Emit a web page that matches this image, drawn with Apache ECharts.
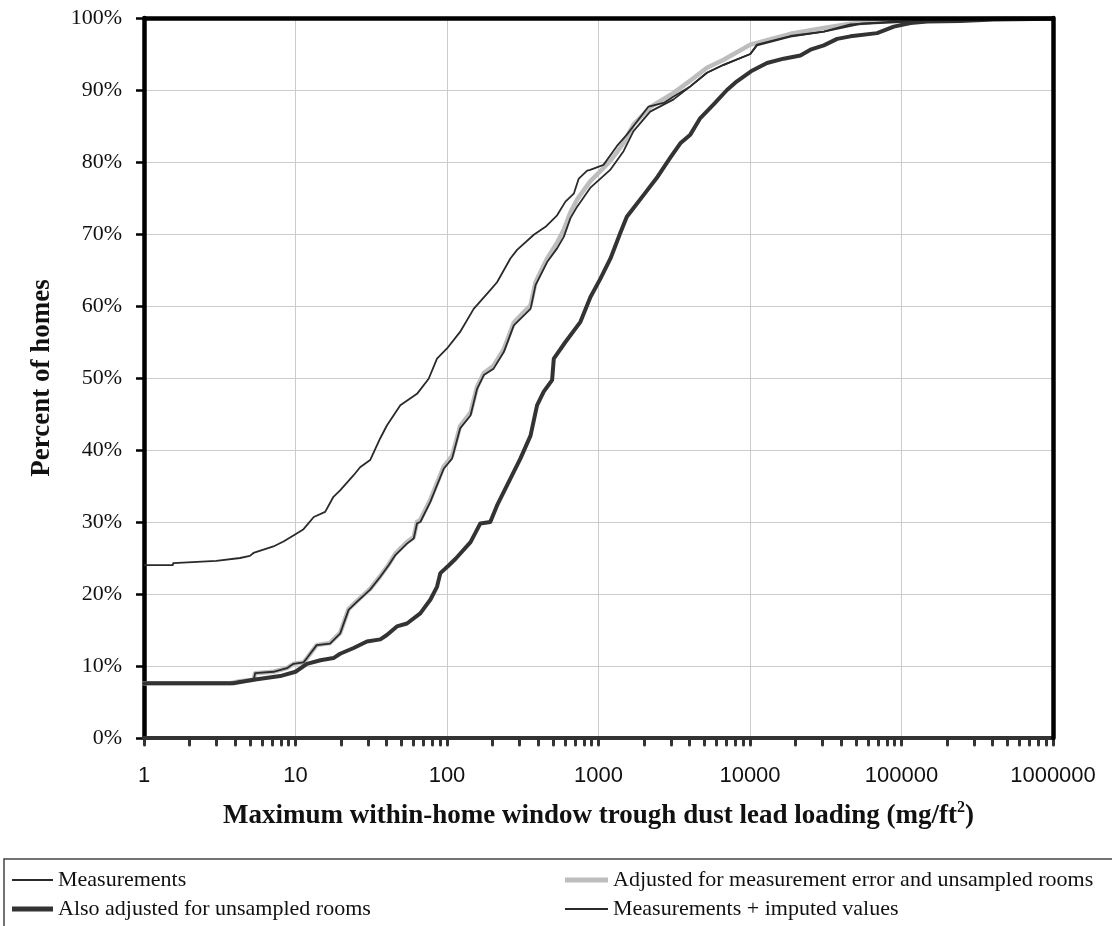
<!DOCTYPE html>
<html>
<head>
<meta charset="utf-8">
<script src="https://cdn.jsdelivr.net/npm/echarts@6/dist/echarts.min.js"></script>
<style>
html,body{margin:0;padding:0;background:#fff;}
#chart{width:1112px;height:926px;}
</style>
</head>
<body>
<div id="chart"></div>
<script>
// ---- Data (x = dust lead loading, y = percent of homes) ----
const seriesNames = [
  'Measurements',
  'Adjusted for measurement error and unsampled rooms',
  'Also adjusted for unsampled rooms',
  'Measurements + imputed values'
];

const measurements = [
  [1,24.0],[1.55,24.0],[1.56,24.3],[3.0,24.6],[4.31,25.0],[5.0,25.3],[5.28,25.7],[7.15,26.6],
  [8.33,27.3],[10,28.3],[11.3,29.0],[13.2,30.7],[15.7,31.4],[17.8,33.5],[19.7,34.4],[24.2,36.5],
  [26.7,37.6],[31.1,38.6],[36.2,41.6],[40.1,43.4],[49.2,46.2],[63.4,47.8],[75.7,49.9],[85.9,52.7],
  [100,54.1],[122,56.4],[150,59.6],[193,62.2],[214,63.3],[262,66.6],[290,67.8],[374,69.9],
  [447,71.0],[533,72.6],[605,74.5],[687,75.6],[741,77.7],[842,78.8],[881,78.9],[1079,79.6],
  [1321,82.2],[1538,83.8],[1791,85.6],[2138,87.7],[2690,88.2],[3133,89.1],[4036,90.5],[5200,92.4],
  [6700,93.5],[10050,95.0],[11120,96.2],[18500,97.4],[30700,98.1],[53600,99.2],[89000,99.4],
  [148000,99.6],[407000,99.95],[1000000,99.95]
];

const adjustedBoth = [
  [1,7.6],[3.7,7.6],[4.31,7.9],[5.3,8.1],[5.41,9.0],[7.15,9.2],[8.77,9.7],[9.7,10.3],[11.3,10.5],
  [11.9,11.1],[13.8,12.9],[16.9,13.2],[19.7,14.6],[22.4,17.9],[25.4,19.0],[31.1,20.7],[36.3,22.5],
  [41.2,24.1],[45.6,25.6],[54.4,27.2],[60.3,27.9],[63.4,30.0],[66.7,30.3],[77.6,33.1],[95.1,37.7],
  [108,39.2],[122,43.3],[143,45.2],[158,48.8],[175,50.7],[203,51.7],[237,54.0],[276,57.7],
  [356,60.1],[384,63.3],[458,66.6],[533,68.8],[590,70.6],[653,73.0],[723,74.8],[881,77.3],
  [1194,80.1],[1463,82.6],[1702,85.2],[2193,87.6],[3133,89.6],[4036,91.3],[5200,93.1],[6700,94.2],
  [10050,96.3],[18500,97.8],[30700,98.6],[46000,99.2],[89000,99.6],[245000,99.8],[500000,99.95],
  [1000000,99.95]
];

const alsoAdjusted = [
  [1,7.6],[3.89,7.6],[5.28,8.1],[7.92,8.6],[10,9.2],[11.9,10.3],[14.6,10.8],[17.8,11.1],[19.7,11.7],
  [24.2,12.5],[29.6,13.4],[36.3,13.7],[40.1,14.3],[46.7,15.5],[54.4,15.9],[66.6,17.3],[77.6,19.2],
  [85.9,21.0],[90.4,22.9],[103,24.0],[114,24.9],[143,27.2],[166,29.8],[193,30.0],[214,32.3],
  [249,35.1],[305,38.8],[356,42.0],[393,46.2],[435,48.1],[494,49.7],[507,52.7],[605,55.0],
  [760,57.8],[885,61.25],[1030,63.8],[1200,66.6],[1390,70.1],[1538,72.4],[1660,73.3],[1982,75.4],
  [2427,77.8],[2977,80.6],[3467,82.6],[4036,83.8],[4699,86.1],[5754,88.0],[7047,90.0],[8200,91.2],
  [10160,92.6],[12950,93.75],[16670,94.35],[21500,94.8],[25060,95.6],[30700,96.2],[37600,97.1],
  [46000,97.45],[69000,97.9],[89000,98.8],[114600,99.3],[148000,99.5],[245000,99.6],[407000,99.8],
  [1000000,99.9]
];

const measPlusImputed = [
  [1,7.6],[3.7,7.6],[4.31,7.9],[5.3,8.0],[5.41,9.0],[7.15,9.2],[8.77,9.7],[9.7,10.3],[11.3,10.5],
  [11.9,11.1],[13.8,12.9],[16.9,13.1],[19.7,14.5],[22.4,17.8],[25.4,18.9],[31.1,20.6],[36.3,22.4],
  [41.2,24.0],[45.6,25.4],[54.4,27.0],[60.3,27.7],[63.4,29.8],[66.7,30.0],[77.6,32.8],[95.1,37.4],
  [108,38.8],[122,43.0],[143,44.8],[158,48.5],[175,50.4],[203,51.3],[237,53.6],[276,57.3],
  [356,59.6],[384,62.9],[458,66.1],[533,68.0],[590,69.6],[653,72.2],[723,73.8],[881,76.4],
  [1194,78.9],[1463,81.5],[1702,84.3],[2193,87.0],[3133,88.7],[4036,90.5],[5200,92.4],[6700,93.5],
  [10050,95.0],[11120,96.3],[18500,97.5],[30700,98.1],[46000,99.1],[89000,99.5],[245000,99.7],
  [500000,99.95],[1000000,99.95]
];

const xLabelValues = [1, 10, 100, 1000, 10000, 100000, 1000000];
const xTickValues = [
  1,2,3,4,5,6,7,8,9,
  10,20,30,40,50,60,70,80,90,
  100,200,300,400,500,600,700,800,900,
  1000,2000,3000,4000,5000,6000,7000,8000,9000,
  10000,20000,30000,40000,50000,60000,70000,80000,90000,
  100000,200000,300000,400000,500000,600000,700000,800000,900000,
  1000000
];

const SERIF = 'Liberation Serif, Times New Roman, serif';
const SANS = 'Liberation Sans, Arial, sans-serif';

const chart = echarts.init(document.getElementById('chart'), null, {renderer: 'canvas'});

const legendText = {fontFamily: SERIF, fontSize: 22, color: '#111', lineHeight: 24};

const option = {
  backgroundColor: '#ffffff',
  animation: false,
  grid: {
    left: 144, right: 59, top: 18, bottom: 188, show: false
  },
  legend: [
    {
      orient: 'vertical', left: 12, top: 868, padding: 0, itemGap: 5, itemWidth: 41, itemHeight: 14,
      textStyle: legendText, selectedMode: false,
      data: [
        {name: seriesNames[0], icon: 'path://M0,0H41V2H0Z'},
        {name: seriesNames[2], icon: 'path://M0,0H41V5H0Z'}
      ]
    },
    {
      orient: 'vertical', left: 565, top: 868, padding: 0, itemGap: 5, itemWidth: 43, itemHeight: 14,
      textStyle: legendText, selectedMode: false,
      data: [
        {name: seriesNames[1], icon: 'path://M0,0H43V5H0Z'},
        {name: seriesNames[3], icon: 'path://M0,0H43V2H0Z'}
      ]
    }
  ],
  xAxis: [
    {
      type: 'log', logBase: 10, min: 1, max: 1000000, z: 5,
      name: 'Maximum within-home window trough dust lead loading (mg/ft{sup|2})',
      nameLocation: 'middle', nameGap: 62,
      nameTextStyle: {
        fontFamily: SERIF, fontWeight: 'bold', fontSize: 27, color: '#111', lineHeight: 32,
        rich: {sup: {fontFamily: SERIF, fontWeight: 'bold', fontSize: 16, color: '#111', verticalAlign: 'top', lineHeight: 16}}
      },
      axisLine: {show: true, onZero: false, lineStyle: {color: '#333', width: 4}},
      axisTick: {show: true, inside: false, length: 7, customValues: xTickValues,
        lineStyle: {color: '#333', width: 3, cap: 'round'}},
      minorTick: {show: false},
      axisLabel: {show: true, customValues: xLabelValues, margin: 27,
        fontFamily: SANS, fontSize: 22, color: '#111',
        formatter: function (v) { return String(Math.round(v)); }},
      splitLine: {show: false}
    },
    {
      type: 'log', logBase: 10, min: 1, max: 1000000, position: 'bottom', z: 0,
      axisLine: {show: false, onZero: false}, axisTick: {show: false}, axisLabel: {show: false},
      splitLine: {show: true, lineStyle: {color: '#cccccc', width: 1}}
    },
    {
      type: 'log', logBase: 10, min: 1, max: 1000000, position: 'top', z: 6,
      axisLine: {show: true, onZero: false, lineStyle: {color: '#000', width: 4.5}},
      axisTick: {show: false}, axisLabel: {show: false}, splitLine: {show: false}
    }
  ],
  yAxis: [
    {
      type: 'value', min: 0, max: 100, interval: 10, z: 1,
      name: 'Percent of homes', nameLocation: 'middle', nameGap: 88,
      nameTextStyle: {fontFamily: SERIF, fontWeight: 'bold', fontSize: 27, color: '#111'},
      axisLine: {show: true, onZero: false, lineStyle: {color: '#000', width: 4.5}},
      axisTick: {show: true, inside: false, length: 8, lineStyle: {color: '#000', width: 2.5}},
      axisLabel: {margin: 22, fontFamily: SERIF, fontSize: 22, color: '#111',
        formatter: function (v) { return v + '%'; }},
      splitLine: {show: true, lineStyle: {color: '#cccccc', width: 1}}
    },
    {
      type: 'value', min: 0, max: 100, interval: 10, position: 'right', z: 6,
      axisLine: {show: true, onZero: false, lineStyle: {color: '#000', width: 4.5}},
      axisTick: {show: false}, axisLabel: {show: false}, splitLine: {show: false}
    }
  ],
  graphic: [
    {type: 'rect', silent: true, z: 0,
      shape: {x: 4, y: 859, width: 1130, height: 100},
      style: {fill: 'none', stroke: '#444', lineWidth: 1.5}}
  ],
  series: [
    {
      name: seriesNames[1], type: 'line', xAxisIndex: 0, yAxisIndex: 0, data: adjustedBoth,
      symbol: 'none', showSymbol: false, z: 2, color: '#bdbdbd',
      lineStyle: {color: '#bdbdbd', width: 4.5, join: 'round', cap: 'round'}
    },
    {
      name: seriesNames[3], type: 'line', xAxisIndex: 0, yAxisIndex: 0, data: measPlusImputed,
      symbol: 'none', showSymbol: false, z: 3, color: '#2a2a2a',
      lineStyle: {color: '#2a2a2a', width: 1.8, join: 'round'}
    },
    {
      name: seriesNames[0], type: 'line', xAxisIndex: 0, yAxisIndex: 0, data: measurements,
      symbol: 'none', showSymbol: false, z: 3, color: '#2a2a2a',
      lineStyle: {color: '#2a2a2a', width: 1.8, join: 'round'}
    },
    {
      name: seriesNames[2], type: 'line', xAxisIndex: 0, yAxisIndex: 0, data: alsoAdjusted,
      symbol: 'none', showSymbol: false, z: 4, color: '#333333',
      lineStyle: {color: '#333333', width: 4, join: 'round', cap: 'round'}
    }
  ]
};

chart.setOption(option);
</script>
</body>
</html>
